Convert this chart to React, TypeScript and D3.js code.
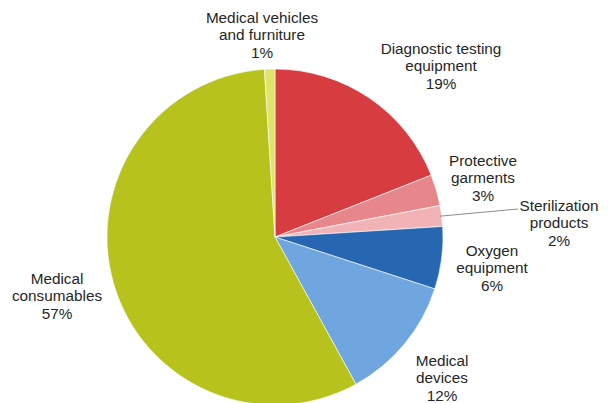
import React from "react";
import * as d3 from "d3";

const categories = [
  "Diagnostic testing equipment",
  "Protective garments",
  "Sterilization products",
  "Oxygen equipment",
  "Medical devices",
  "Medical consumables",
  "Medical vehicles and furniture",
];
const values = [19, 3, 2, 6, 12, 57, 1];
const colors = ["#D63C40", "#E8878B", "#F2B3B6", "#2767B2", "#70A6DF", "#B7C21C", "#E0E36C"];
const labelLines = [
  ["Diagnostic testing", "equipment", "19%"],
  ["Protective", "garments", "3%"],
  ["Sterilization", "products", "2%"],
  ["Oxygen", "equipment", "6%"],
  ["Medical", "devices", "12%"],
  ["Medical", "consumables", "57%"],
  ["Medical vehicles", "and furniture", "1%"],
];
// label anchor (center of first line)
const labelPos: [number, number][] = [
  [441, 48],
  [483, 160],
  [559, 205],
  [492, 250],
  [442, 360],
  [57, 278],
  [262, 17],
];

export default function App() {
  const W = 610, H = 403;
  const cx = 275, cy = 237, r = 168;
  const pie = d3.pie<number>().sort(null).value((d) => d)(values);
  const arc = d3.arc<d3.PieArcDatum<number>>().innerRadius(0).outerRadius(r);
  const steril = pie[2];
  const midA = (steril.startAngle + steril.endAngle) / 2;
  const lx0 = Math.sin(midA) * (r - 2);
  const ly0 = -Math.cos(midA) * (r - 2);
  return (
    <svg width={W} height={H} style={{ position: "absolute", left: 0, top: 0 }}>
      <rect width={W} height={H} fill="#fff" />
      <g transform={`translate(${cx},${cy})`}>
        {pie.map((p, i) => (
          <path key={i} d={arc(p) || ""} fill={colors[i]} stroke="#fff" strokeWidth={0.6} />
        ))}
        <line x1={lx0} y1={ly0} x2={518 - cx} y2={209 - cy} stroke="#8c8c8c" strokeWidth={1} />
      </g>
      {labelLines.map((lines, i) => (
        <text
          key={i}
          x={labelPos[i][0]}
          y={labelPos[i][1]}
          textAnchor="middle"
          dominantBaseline="central"
          fontFamily="Liberation Sans, Arial, sans-serif"
          fontSize={15.3}
          fill="#262626"
        >
          {lines.map((l, j) => (
            <tspan key={j} x={labelPos[i][0]} dy={j === 0 ? 0 : 17.3}>
              {l}
            </tspan>
          ))}
        </text>
      ))}
    </svg>
  );
}
